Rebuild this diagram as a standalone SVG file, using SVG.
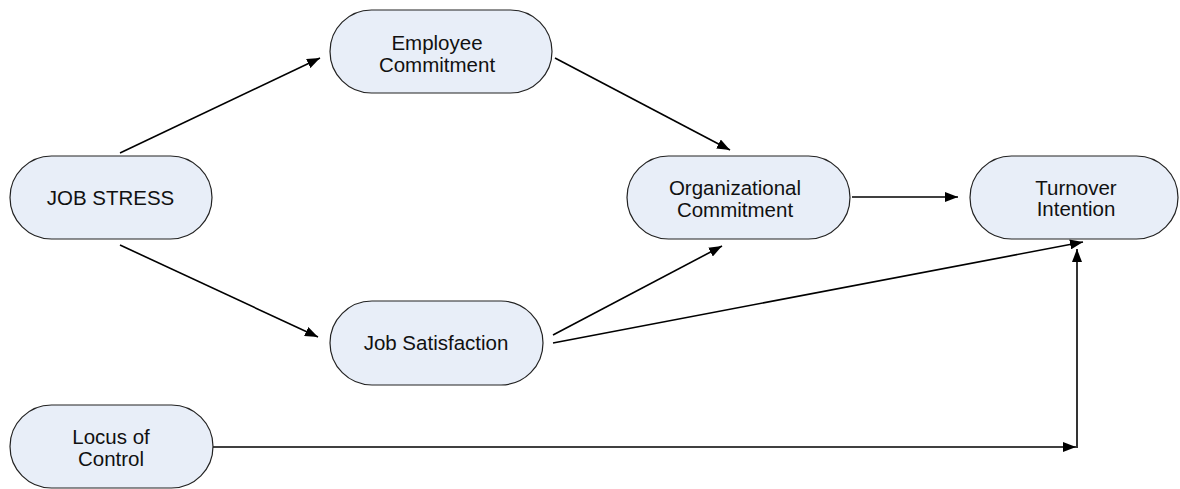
<svg xmlns="http://www.w3.org/2000/svg" width="1180" height="489" viewBox="0 0 1180 489">
<style>
.n{fill:#E8EEF8;stroke:#222;stroke-width:1.2}
.t{font-family:"Liberation Sans",Arial,sans-serif;font-size:20.5px;fill:#111;text-anchor:middle}
.c{stroke:#000;stroke-width:1.6;fill:none}
</style>
<defs>
<marker id="a" viewBox="0 0 13 10" refX="13" refY="5" markerWidth="13" markerHeight="10" markerUnits="userSpaceOnUse" orient="auto">
<path d="M0,0 L13,5 L0,10 Z" fill="#000"/>
</marker>
</defs>
<rect width="1180" height="489" fill="#fff"/>
<g id="connectors">
<line class="c" x1="120" y1="153" x2="320" y2="58" marker-end="url(#a)"/>
<line class="c" x1="120" y1="245" x2="318" y2="337" marker-end="url(#a)"/>
<line class="c" x1="555" y1="58" x2="730" y2="150" marker-end="url(#a)"/>
<line class="c" x1="852" y1="197" x2="958" y2="197" marker-end="url(#a)"/>
<line class="c" x1="553" y1="335" x2="722" y2="246" marker-end="url(#a)"/>
<line class="c" x1="553" y1="343" x2="1083" y2="242" marker-end="url(#a)"/>
<line class="c" x1="213" y1="447" x2="1076" y2="447" marker-end="url(#a)"/>
<line class="c" x1="1077" y1="448" x2="1077" y2="249" marker-end="url(#a)"/>
</g>
<g id="job-stress">
<rect class="n" x="10" y="156" width="202" height="83" rx="41.5"/>
<text class="t" x="110.5" y="205">JOB STRESS</text>
</g>
<g id="employee-commitment">
<rect class="n" x="330" y="10" width="222" height="83" rx="41.5"/>
<text class="t" x="437" y="50">Employee</text>
<text class="t" x="437" y="72">Commitment</text>
</g>
<g id="organizational-commitment">
<rect class="n" x="627" y="156" width="223" height="83" rx="41.5"/>
<text class="t" x="735" y="195">Organizational</text>
<text class="t" x="735" y="217">Commitment</text>
</g>
<g id="turnover-intention">
<rect class="n" x="970" y="156" width="208" height="83" rx="41.5"/>
<text class="t" x="1076" y="194.5">Turnover</text>
<text class="t" x="1076" y="216">Intention</text>
</g>
<g id="job-satisfaction">
<rect class="n" x="330" y="301" width="213" height="84" rx="42"/>
<text class="t" x="436" y="350">Job Satisfaction</text>
</g>
<g id="locus-of-control">
<rect class="n" x="10" y="405" width="203" height="83" rx="41.5"/>
<text class="t" x="111" y="444">Locus of</text>
<text class="t" x="111" y="466">Control</text>
</g>
</svg>
